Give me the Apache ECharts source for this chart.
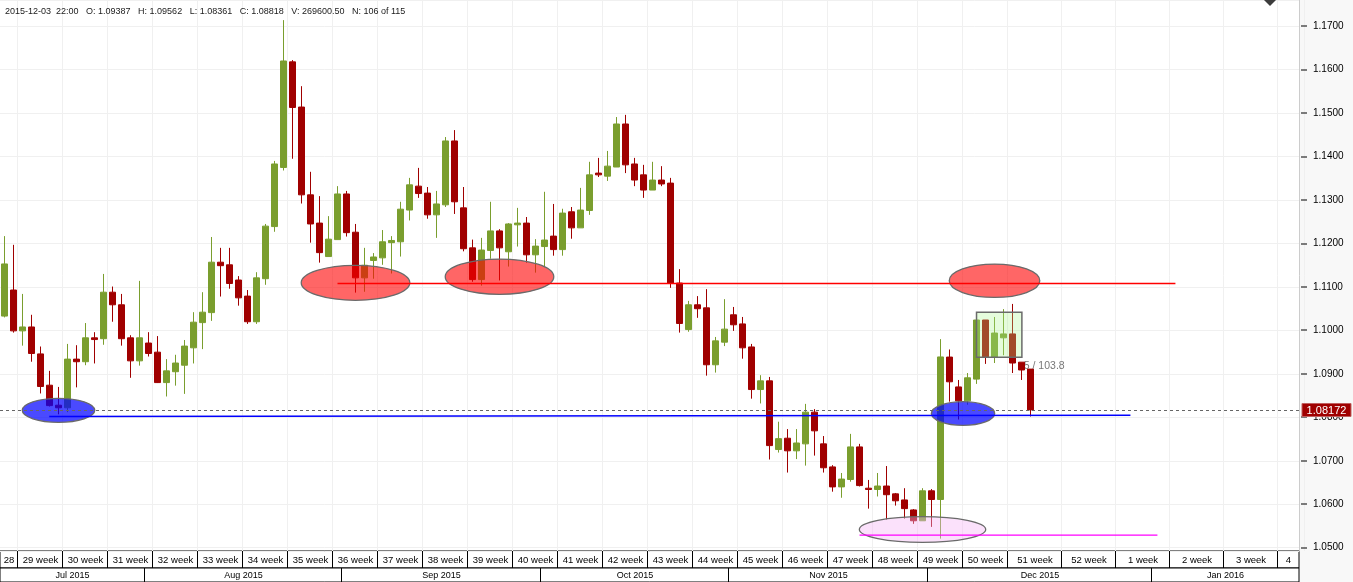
<!DOCTYPE html>
<html><head><meta charset="utf-8">
<script src="https://cdn.jsdelivr.net/npm/echarts@6/dist/echarts.min.js"></script>
<style>html,body{margin:0;padding:0;background:#fff;overflow:hidden}#c{width:1353px;height:582px}</style>
</head><body><div id="c"></div>
<script>
// ---- data (EUR/USD daily, 115 candles) ----
const opens  = [1.1033,1.1093,1.0999,1.1008,1.0946,1.0874,1.0828,1.0822,1.0934,1.0928,1.0983,1.0981,1.1088,1.1059,1.0983,1.0930,1.0971,1.0950,1.0880,1.0905,
1.0920,1.0960,1.1018,1.1041,1.1157,1.1151,1.1116,1.1079,1.1020,1.1119,1.1239,1.1375,1.1618,1.1514,1.1312,1.1247,1.1170,1.1209,1.1314,1.1226,
1.1121,1.1161,1.1167,1.1202,1.1204,1.1277,1.1332,1.1316,1.1266,1.1289,1.1436,1.1282,1.1190,1.1117,1.1184,1.1229,1.1181,1.1243,1.1247,1.1174,
1.1193,1.1217,1.1186,1.1273,1.1236,1.1276,1.1362,1.1355,1.1376,1.1475,1.1383,1.1358,1.1323,1.1346,1.1339,1.1109,1.1002,1.1059,1.1052,1.0921,
1.0973,1.1036,1.1015,1.0962,1.0864,1.0884,1.0726,1.0752,1.0723,1.0739,1.0812,1.0739,1.0686,1.0640,1.0657,1.0732,1.0637,1.0634,1.0642,1.0624,
1.0610,1.0587,1.0562,1.0631,1.0611,1.09387,1.0870,1.0838,1.0888,1.1024,1.0939,1.0983,1.0992,1.0927,1.0911];
const closes = [1.1153,1.0999,1.1008,1.0947,1.0871,1.0827,1.0822,1.0934,1.0928,1.0983,1.0979,1.1088,1.1059,1.0981,1.0930,1.0983,1.0947,1.0880,1.0907,1.0925,
1.0964,1.1019,1.1042,1.1157,1.1149,1.1108,1.1075,1.1020,1.1121,1.1240,1.1383,1.1620,1.1513,1.1312,1.1245,1.1179,1.1210,1.1314,1.1225,1.1121,
1.1150,1.1169,1.1204,1.1207,1.1279,1.1335,1.1315,1.1266,1.1291,1.1436,1.1296,1.1188,1.1117,1.1185,1.1229,1.1190,1.1245,1.1247,1.1174,1.1194,
1.1208,1.1186,1.1270,1.1236,1.1277,1.1358,1.1358,1.1378,1.1475,1.1381,1.1346,1.1323,1.1346,1.1337,1.1108,1.1016,1.1059,1.1050,1.0921,1.0976,
1.1003,1.1013,1.0960,1.0864,1.0884,1.0735,1.0751,1.0723,1.0741,1.0812,1.0769,1.0684,1.0640,1.0658,1.0732,1.0643,1.0634,1.0642,1.0622,1.0608,
1.0590,1.0562,1.0631,1.0611,1.0939,1.08818,1.0838,1.0891,1.1024,1.0939,1.0994,1.0992,1.0925,1.0909,1.08172];
const highs  = [1.1217,1.1197,1.1084,1.1036,1.0963,1.0907,1.0870,1.0969,1.0966,1.1017,1.0996,1.1130,1.1101,1.1084,1.0989,1.1114,1.0996,1.0987,1.0934,1.0944,
1.0978,1.1042,1.1088,1.1215,1.1190,1.1190,1.1125,1.1093,1.1134,1.1245,1.1390,1.1714,1.1622,1.1562,1.1365,1.1309,1.1263,1.1332,1.1321,1.1245,
1.1190,1.1178,1.1231,1.1217,1.1296,1.1351,1.1374,1.1330,1.1321,1.1445,1.1461,1.1330,1.1209,1.1213,1.1296,1.1233,1.1247,1.1282,1.1261,1.1210,
1.1319,1.1291,1.1280,1.1284,1.1328,1.1388,1.1397,1.1413,1.1491,1.1496,1.1397,1.1381,1.1388,1.1378,1.1351,1.1141,1.1068,1.1079,1.1095,1.0985,
1.1072,1.1054,1.1031,1.0969,1.0897,1.0893,1.0790,1.0773,1.0773,1.0831,1.0819,1.0757,1.0690,1.0672,1.0762,1.0739,1.0656,1.0672,1.0688,1.0626,
1.0637,1.0589,1.0637,1.0635,1.0980,1.09562,1.0886,1.0902,1.1024,1.1024,1.1031,1.1049,1.1061,1.0927,1.0911];
const lows   = [1.1030,1.0995,1.0965,1.0928,1.0855,1.0825,1.0807,1.0812,1.0869,1.0920,1.0924,1.0967,1.1020,1.0965,1.0891,1.0919,1.0940,1.0879,1.0848,1.0873,
1.0854,1.0924,1.0957,1.1022,1.1078,1.1096,1.1057,1.1015,1.1015,1.1105,1.1227,1.1368,1.1395,1.1292,1.1202,1.1156,1.1170,1.1209,1.1216,1.1087,
1.1089,1.1119,1.1151,1.1131,1.1170,1.1253,1.1305,1.1257,1.1213,1.1284,1.1268,1.1182,1.1112,1.1103,1.1165,1.1115,1.1147,1.1193,1.1156,1.1133,
1.1147,1.1172,1.1172,1.1211,1.1236,1.1266,1.1353,1.1344,1.1376,1.1362,1.1332,1.1305,1.1323,1.1332,1.1098,1.0995,1.0997,1.1029,1.0896,1.0903,
1.0964,1.0999,1.0935,1.0843,1.0832,1.0703,1.0719,1.0673,1.0704,1.0689,1.0712,1.0673,1.0629,1.0615,1.0652,1.0641,1.0590,1.0618,1.0565,1.0597,
1.0567,1.0555,1.0562,1.0548,1.0521,1.08361,1.0795,1.0829,1.0877,1.0923,1.0925,1.0943,1.0902,1.0886,1.0802];

const header = '2015-12-03  22:00   O: 1.09387   H: 1.09562   L: 1.08361   C: 1.08818   V: 269600.50   N: 106 of 115';
const lastPrice = 1.08172;
const visibleSlots = [-0.5, 143.83];          // candle-slot range shown
const priceRange = [1.04925, 1.17603];
const priceTicks = [1.05, 1.06, 1.07, 1.08, 1.09, 1.10, 1.11, 1.12, 1.13, 1.14, 1.15, 1.16, 1.17];

// time scale rows (slot counts per week, month edges in candle slots)
const weekLabels = ['28','29 week','30 week','31 week','32 week','33 week','34 week','35 week','36 week','37 week','38 week','39 week',
  '40 week','41 week','42 week','43 week','44 week','45 week','46 week','47 week','48 week','49 week','50 week','51 week','52 week',
  '1 week','2 week','3 week','4'];
const weekSlots = [2,5,5,5,5,5,5,5,5,5,5,5,5,5,5,5,5,5,5,5,5,5,5,6,6,6,6,6,3];
const monthLabels = ['Jul 2015','Aug 2015','Sep 2015','Oct 2015','Nov 2015','Dec 2015','Jan 2016'];
const monthEdges = [-0.5, 15.6, 37.5, 59.6, 80.5, 102.6, 127.5, 143.83];

// drawings: [centerSlot, centerPrice, radiusSlots, radiusPrice]
const redEllipses  = [[39.0, 1.11096, 6.03, 0.00403], [55.0, 1.11236, 6.03, 0.00407], [110.0, 1.11144, 5.03, 0.00384]];
const blueEllipses = [[6.0, 1.08162, 4.03, 0.00276], [106.5, 1.08088, 3.52, 0.00272]];
const pinkEllipses = [[102.0, 1.05419, 7.02, 0.00295]];
// lines: [slot1, price1, slot2, price2]
const redLines     = [[37.0, 1.1108, 130.1, 1.1108]];
const blueLines    = [[4.97, 1.0802, 125.1, 1.0805]];
const magentaLines = [[95.0, 1.0529, 128.1, 1.0529]];
// box: [slotLeft, priceTop, slotRight, priceBottom]
const boxes = [[108.0, 1.10417, 113.04, 1.09382]];
const notes = [[113.25, 1.0918]];
const noteTexts = ['5 / 103.8'];

// ---- build ----
const candleData = opens.map((o, i) => [i, o, closes[i], lows[i], highs[i]]);
const weekCells = []; {
  let s = visibleSlots[0];
  weekSlots.forEach(n => { weekCells.push([s, s + n]); s += n; });
}
const weekEdges = weekCells.map(c => [c[1], 1.1]);
const monthCells = monthLabels.map((m, i) => [monthEdges[i], monthEdges[i + 1]]);

const FONT = '"Liberation Sans", Arial, sans-serif';
const crisp = v => Math.round(v) + 0.5;

function ellipseSeries(data, fill, z) {
  return {
    type: 'custom', xAxisIndex: 0, yAxisIndex: 0, z: z, silent: true, data: data,
    renderItem: (params, api) => {
      const c = api.coord([api.value(0), api.value(1)]);
      const s = api.size([api.value(2), api.value(3)]);
      return { type: 'ellipse', shape: { cx: c[0], cy: c[1], rx: s[0], ry: s[1] },
        style: { fill: fill, stroke: '#6a6a6a', lineWidth: 1.3 } };
    }
  };
}
function lineSeries(data, color, width) {
  return {
    type: 'custom', xAxisIndex: 0, yAxisIndex: 0, z: 4, silent: true, data: data,
    renderItem: (params, api) => {
      const a = api.coord([api.value(0), api.value(1)]);
      const b = api.coord([api.value(2), api.value(3)]);
      return { type: 'line', shape: { x1: a[0], y1: a[1], x2: b[0], y2: b[1] },
        style: { stroke: color, lineWidth: width } };
    }
  };
}
function cellSeries(gridIdx, cells, labels, fontSize) {
  return {
    type: 'custom', xAxisIndex: gridIdx, yAxisIndex: gridIdx, silent: true, data: cells.map(c => [c[0], c[1], 0.5]),
    clip: false,
    renderItem: (params, api) => {
      const cs = params.coordSys;
      const x1 = Math.max(api.coord([api.value(0), 0])[0], cs.x);
      const x2r = api.coord([api.value(1), 0])[0];
      const x2 = Math.min(x2r, cs.x + cs.width);
      const children = [{ type: 'text', x: (x1 + x2) / 2, y: cs.y + cs.height / 2 + 0.5,
        style: { text: labels[params.dataIndex], fill: '#000', font: fontSize + 'px ' + FONT, align: 'center', verticalAlign: 'middle' } }];
      if (x2r < cs.x + cs.width - 1) {
        children.push({ type: 'line', shape: { x1: crisp(x2) - 1, y1: cs.y, x2: crisp(x2) - 1, y2: cs.y + cs.height },
          style: { stroke: '#000', lineWidth: 1 } });
      }
      return { type: 'group', children: children };
    }
  };
}

const chart = echarts.init(document.getElementById('c'), null, { renderer: 'canvas' });
const hiddenX = (gi) => ({ type: 'value', gridIndex: gi, min: visibleSlots[0], max: visibleSlots[1], show: false, splitLine: { show: false } });
const hiddenY = (gi) => ({ type: 'value', gridIndex: gi, min: 0, max: 1, show: false, splitLine: { show: false } });

chart.setOption({
  animation: false,
  backgroundColor: '#f8f8f8',
  title: { text: header, left: 5, top: 7, padding: 0, textStyle: { fontSize: 9, fontWeight: 'normal', color: '#1a1a1a', fontFamily: FONT } },
  graphic: [
    { type: 'polygon', z: 10, silent: true, shape: { points: [[1264, 0], [1276, 0], [1270, 6]] }, style: { fill: '#3c3c3c' } }
  ],
  grid: [
    { left: 0, right: 54, top: 0, bottom: 31, show: true, backgroundColor: '#ffffff', borderWidth: 0 },
    { left: 0, right: 54, top: 551, height: 17, show: true, backgroundColor: '#fff', borderColor: '#000', borderWidth: 1 },
    { left: 0, right: 54, top: 568, height: 14, show: true, backgroundColor: '#fff', borderColor: '#000', borderWidth: 1 }
  ],
  xAxis: [hiddenX(0), hiddenX(1), hiddenX(2)],
  yAxis: [
    { type: 'value', gridIndex: 0, position: 'right', min: priceRange[0], max: priceRange[1], splitNumber: 12,
      axisLine: { show: true, onZero: false, lineStyle: { color: '#cccccc' } },
      axisTick: { show: false },
      axisLabel: { margin: 14, fontSize: 10, color: '#000', fontFamily: FONT, showMinLabel: false, showMaxLabel: false,
        formatter: v => v.toFixed(4) },
      splitLine: { show: true, lineStyle: { color: '#f0f0f0', width: 1 } } },
    hiddenY(1), hiddenY(2)
  ],
  series: [
    { // week gridlines
      type: 'custom', xAxisIndex: 0, yAxisIndex: 0, z: 1, silent: true, data: weekEdges,
      renderItem: (params, api) => {
        const cs = params.coordSys;
        const x = crisp(api.coord([api.value(0), 1.1])[0]) - 1;
        return { type: 'line', shape: { x1: x, y1: cs.y, x2: x, y2: cs.y + cs.height }, style: { stroke: '#f0f0f0', lineWidth: 1 } };
      }
    },
    { // note text (under candles)
      type: 'custom', xAxisIndex: 0, yAxisIndex: 0, z: 1, silent: true, data: notes,
      renderItem: (params, api) => {
        const c = api.coord([api.value(0), api.value(1)]);
        return { type: 'text', x: c[0], y: c[1], style: { text: noteTexts[params.dataIndex], fill: '#777', font: '10.5px ' + FONT, verticalAlign: 'middle' } };
      }
    },
    {
      type: 'candlestick', xAxisIndex: 0, yAxisIndex: 0, z: 2, data: candleData, barWidth: 6,
      encode: { x: 0, y: [1, 2, 3, 4] },
      itemStyle: { color: '#7a9e2e', color0: '#a00000', borderColor: '#7a9e2e', borderColor0: '#a00000', borderWidth: 1 }
    },
    { // price-axis tick marks, last price dashed line + label
      type: 'custom', xAxisIndex: 0, yAxisIndex: 0, z: 6, silent: true, clip: false, data: [[visibleSlots[0], lastPrice]],
      renderItem: (params, api) => {
        const cs = params.coordSys;
        const right = cs.x + cs.width;
        const children = priceTicks.map(p => {
          const ty = Math.round(api.coord([api.value(0), p])[1]) - 0.5;
          return { type: 'rect', shape: { x: right + 2, y: ty, width: 6, height: 1 }, style: { fill: '#000' } };
        });
        const y = Math.round(api.coord([api.value(0), api.value(1)])[1]) + 0.5;
        children.push(
          { type: 'line', shape: { x1: cs.x, y1: y, x2: right, y2: y }, style: { stroke: '#666', lineWidth: 1, lineDash: [3, 3] } },
          { type: 'rect', shape: { x: right + 3, y: y - 7, width: 49, height: 13 }, style: { fill: '#a00000', stroke: '#c06060', lineWidth: 1 } },
          { type: 'text', x: right + 27.5, y: y, style: { text: lastPrice.toFixed(5), fill: '#fff', font: '11px ' + FONT, align: 'center', verticalAlign: 'middle' } }
        );
        return { type: 'group', children: children };
      }
    },
    ellipseSeries(redEllipses, 'rgba(255,0,0,0.6)', 3),
    ellipseSeries(blueEllipses, 'rgba(0,0,255,0.71)', 3),
    ellipseSeries(pinkEllipses, 'rgba(245,180,245,0.4)', 3),
    {
      type: 'custom', xAxisIndex: 0, yAxisIndex: 0, z: 3, silent: true, data: boxes,
      renderItem: (params, api) => {
        const a = api.coord([api.value(0), api.value(1)]);
        const b = api.coord([api.value(2), api.value(3)]);
        return { type: 'rect', shape: { x: a[0], y: a[1], width: b[0] - a[0], height: b[1] - a[1] },
          style: { fill: 'rgba(170,245,140,0.3)', stroke: '#6a6a6a', lineWidth: 1.5 } };
      }
    },
    lineSeries(redLines, '#ff0000', 1.5),
    lineSeries(blueLines, '#0000ff', 1.5),
    lineSeries(magentaLines, '#ff00ff', 1.2),
    cellSeries(1, weekCells, weekLabels, 9.5),
    cellSeries(2, monthCells, monthLabels, 9)
  ]
});
</script>
</body></html>
